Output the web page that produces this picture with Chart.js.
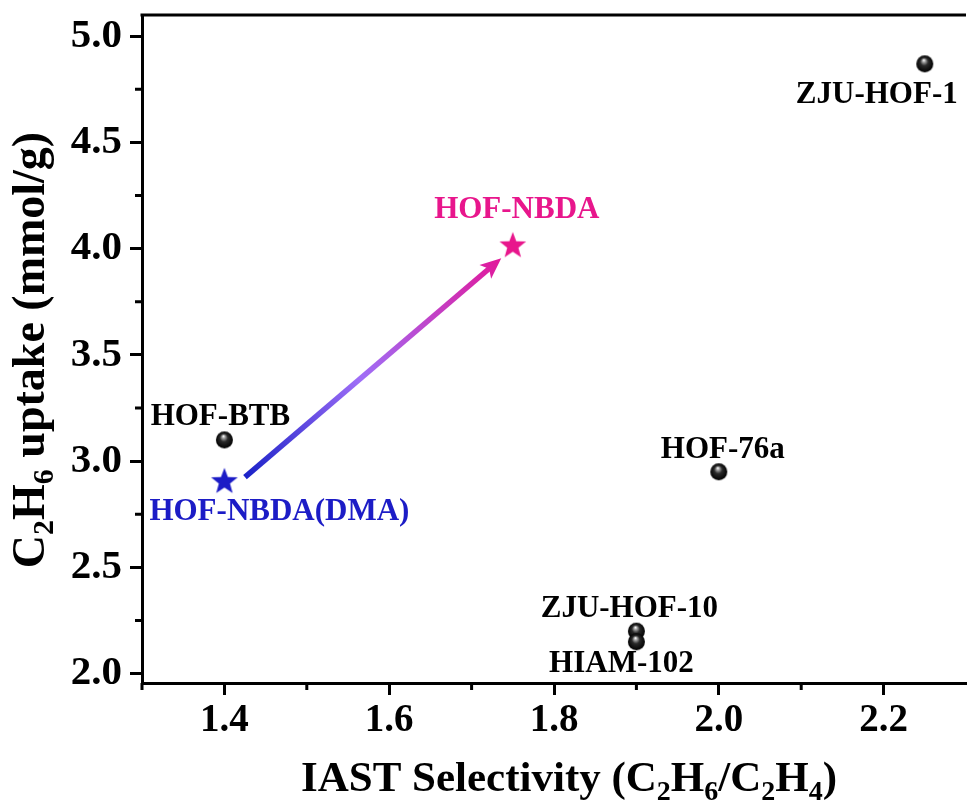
<!DOCTYPE html>
<html>
<head>
<meta charset="utf-8">
<script src="https://cdn.jsdelivr.net/npm/chart.js@4.4.1/dist/chart.umd.min.js"></script>
<style>
  html, body { margin: 0; padding: 0; background: #fff; overflow: hidden; }
  #uptakeChart { display: block; }
</style>
</head>
<body>
<canvas id="uptakeChart" width="980" height="802"></canvas>
<script>
// reported HOFs: IAST selectivity vs C2H6 uptake
const hofNames = ['ZJU-HOF-1', 'HOF-BTB', 'HOF-76a', 'ZJU-HOF-10', 'HIAM-102'];
const hofSelectivity = [2.25, 1.40, 2.00, 1.90, 1.90];
const hofUptake = [4.87, 3.10, 2.95, 2.20, 2.15];

// this work, before and after activation
const nbdaNames = ['HOF-NBDA(DMA)', 'HOF-NBDA'];
const nbdaSelectivity = [1.40, 1.75];
const nbdaUptake = [2.91, 4.02];
const nbdaColors = ['#1c1cc6', '#e8168c'];

// arrow from HOF-NBDA(DMA) towards HOF-NBDA
const arrowFrom = [1.425, 2.925];
const arrowTo = [1.736, 3.955];

const xTicks = [1.4, 1.6, 1.8, 2.0, 2.2];
const xMinorTicks = [1.3, 1.5, 1.7, 1.9, 2.1];
const yTicks = [2.0, 2.5, 3.0, 3.5, 4.0, 4.5, 5.0];
const yMinorTicks = [2.25, 2.75, 3.25, 3.75, 4.25, 4.75];

// label placement around each marker (px)
const hofLabelOffsets = [[-48, 31], [-4, -23], [4, -22], [-7, -22], [-15, 22]];
const nbdaLabelOffsets = [[55, 32], [4, -34]];

const SERIF = '"Liberation Serif", "Times New Roman", serif';

// glossy black ball marker
function makeSphere(r) {
  const s = r * 2 + 2;
  const c = document.createElement('canvas');
  c.width = c.height = s;
  const g = c.getContext('2d');
  const cx = s / 2, cy = s / 2;
  const grad = g.createRadialGradient(cx - 1, cy - r * 0.45, 0.3, cx, cy, r);
  grad.addColorStop(0, '#ffffff');
  grad.addColorStop(0.15, '#a8a8a8');
  grad.addColorStop(0.45, '#2a2a2a');
  grad.addColorStop(1, '#000000');
  g.fillStyle = grad;
  g.beginPath();
  g.arc(cx, cy, r, 0, Math.PI * 2);
  g.fill();
  return c;
}

// filled five-point star marker
function makeStar(r, color) {
  const s = Math.ceil(r * 2) + 2;
  const c = document.createElement('canvas');
  c.width = c.height = s;
  const g = c.getContext('2d');
  const cx = s / 2, cy = s / 2 + r * 0.1;
  const inner = r * 0.42;
  g.beginPath();
  for (let i = 0; i < 10; i++) {
    const a = -Math.PI / 2 + i * Math.PI / 5;
    const rad = i % 2 ? inner : r;
    const px = cx + Math.cos(a) * rad, py = cy + Math.sin(a) * rad;
    if (i === 0) g.moveTo(px, py); else g.lineTo(px, py);
  }
  g.closePath();
  g.fillStyle = color;
  g.fill();
  return c;
}

const sphere = makeSphere(8.5);
const stars = nbdaColors.map(col => makeStar(14, col));

// text with subscript runs, centred on x, alphabetic baseline at y
function drawRich(ctx, parts, x, y, size) {
  const big = `bold ${size}px ${SERIF}`;
  const small = `bold ${Math.round(size * 0.66)}px ${SERIF}`;
  let total = 0;
  parts.forEach(p => {
    ctx.font = p.sub ? small : big;
    p.w = ctx.measureText(p.t).width;
    total += p.w;
  });
  let cx = x - total / 2;
  ctx.textAlign = 'left';
  ctx.textBaseline = 'alphabetic';
  parts.forEach(p => {
    ctx.font = p.sub ? small : big;
    ctx.fillText(p.t, cx, p.sub ? y + size * 0.2 : y);
    cx += p.w;
  });
}

const xTitle = [
  { t: 'IAST Selectivity (C' }, { t: '2', sub: true }, { t: 'H' }, { t: '6', sub: true },
  { t: '/C' }, { t: '2', sub: true }, { t: 'H' }, { t: '4', sub: true }, { t: ')' }
];
const yTitle = [
  { t: 'C' }, { t: '2', sub: true }, { t: 'H' }, { t: '6', sub: true }, { t: ' uptake (mmol/g)' }
];

const decorPlugin = {
  id: 'decor',
  beforeDatasetsDraw(chart) {
    const ctx = chart.ctx;
    const xs = chart.scales.x, ys = chart.scales.y;
    const x1 = xs.getPixelForValue(arrowFrom[0]), y1 = ys.getPixelForValue(arrowFrom[1]);
    const x2 = xs.getPixelForValue(arrowTo[0]), y2 = ys.getPixelForValue(arrowTo[1]);
    const len = Math.hypot(x2 - x1, y2 - y1);
    const ux = (x2 - x1) / len, uy = (y2 - y1) / len;
    const headLen = 21, headHalf = 9;
    const bx = x2 - ux * headLen, by = y2 - uy * headLen;

    const grad = ctx.createLinearGradient(x1, y1, x2, y2);
    grad.addColorStop(0, '#1a22c8');
    grad.addColorStop(0.45, '#9f6ef7');
    grad.addColorStop(1, '#e2189a');

    ctx.save();
    ctx.strokeStyle = grad;
    ctx.lineWidth = 5.5;
    ctx.lineCap = 'butt';
    ctx.beginPath();
    ctx.moveTo(x1, y1);
    ctx.lineTo(bx + ux * 6, by + uy * 6);
    ctx.stroke();

    ctx.fillStyle = grad;
    ctx.beginPath();
    ctx.moveTo(x2, y2);
    ctx.lineTo(bx - uy * headHalf, by + ux * headHalf);
    ctx.lineTo(bx + ux * 5, by + uy * 5);
    ctx.lineTo(bx + uy * headHalf, by - ux * headHalf);
    ctx.closePath();
    ctx.fill();
    ctx.restore();
  },
  afterDatasetsDraw(chart) {
    const ctx = chart.ctx;
    ctx.save();
    ctx.font = `bold 31px ${SERIF}`;
    ctx.textAlign = 'center';
    ctx.textBaseline = 'middle';
    const hofPts = chart.getDatasetMeta(0).data;
    hofNames.forEach((name, i) => {
      ctx.fillStyle = '#000';
      ctx.fillText(name, hofPts[i].x + hofLabelOffsets[i][0], hofPts[i].y + hofLabelOffsets[i][1]);
    });
    const nbdaPts = chart.getDatasetMeta(1).data;
    nbdaNames.forEach((name, i) => {
      ctx.fillStyle = nbdaColors[i];
      ctx.fillText(name, nbdaPts[i].x + nbdaLabelOffsets[i][0], nbdaPts[i].y + nbdaLabelOffsets[i][1]);
    });
    ctx.restore();
  },
  afterDraw(chart) {
    const ctx = chart.ctx;
    const area = chart.chartArea;
    const xs = chart.scales.x, ys = chart.scales.y;
    ctx.save();
    ctx.strokeStyle = '#000';
    ctx.lineWidth = 3;
    // top frame line
    ctx.beginPath();
    ctx.moveTo(area.left - 1.5, area.top);
    ctx.lineTo(area.right, area.top);
    ctx.stroke();
    // minor ticks
    ctx.beginPath();
    xMinorTicks.forEach(v => {
      const px = xs.getPixelForValue(v);
      ctx.moveTo(px, area.bottom);
      ctx.lineTo(px, area.bottom + 7);
    });
    yMinorTicks.forEach(v => {
      const py = ys.getPixelForValue(v);
      ctx.moveTo(area.left, py);
      ctx.lineTo(area.left - 7, py);
    });
    ctx.stroke();

    // axis titles
    ctx.fillStyle = '#000';
    drawRich(ctx, xTitle, 569, 791, 43);
    ctx.translate(44, 350);
    ctx.rotate(-Math.PI / 2);
    drawRich(ctx, yTitle, 0, 0, 46);
    ctx.restore();
  }
};

new Chart(document.getElementById('uptakeChart'), {
  type: 'scatter',
  data: {
    datasets: [
      {
        label: 'HOFs',
        data: hofNames.map((n, i) => ({ x: hofSelectivity[i], y: hofUptake[i] })),
        pointStyle: sphere,
        pointRadius: 8
      },
      {
        label: 'HOF-NBDA',
        data: nbdaNames.map((n, i) => ({ x: nbdaSelectivity[i], y: nbdaUptake[i] })),
        pointStyle: stars,
        pointRadius: 13
      }
    ]
  },
  options: {
    responsive: false,
    devicePixelRatio: 1,
    animation: false,
    layout: { padding: { top: 15, right: 9, left: 0, bottom: 0 } },
    plugins: {
      legend: { display: false },
      tooltip: { enabled: false }
    },
    scales: {
      x: {
        type: 'linear',
        min: 1.3,
        max: 2.3,
        afterBuildTicks: scale => { scale.ticks = xTicks.map(v => ({ value: v })); },
        afterFit: scale => {
          scale.height = 119;
          scale.paddingLeft = 0;
          scale.paddingRight = 0;
        },
        border: { display: true, width: 3, color: '#000' },
        grid: { drawOnChartArea: false, drawTicks: true, tickLength: 12, tickWidth: 3, tickColor: '#000' },
        ticks: {
          font: { family: SERIF, weight: 'bold', size: 39 },
          color: '#000',
          padding: 3,
          maxRotation: 0,
          callback: v => v.toFixed(1)
        }
      },
      y: {
        type: 'linear',
        min: 1.956,
        max: 5.1,
        afterBuildTicks: scale => { scale.ticks = yTicks.map(v => ({ value: v })); },
        afterFit: scale => {
          scale.width = 142;
          scale.paddingTop = 0;
          scale.paddingBottom = 0;
        },
        border: { display: true, width: 3, color: '#000' },
        grid: { drawOnChartArea: false, drawTicks: true, tickLength: 12, tickWidth: 3, tickColor: '#000' },
        ticks: {
          font: { family: SERIF, weight: 'bold', size: 41 },
          color: '#000',
          padding: 8,
          callback: v => v.toFixed(1)
        }
      }
    }
  },
  plugins: [decorPlugin]
});
</script>
</body>
</html>
